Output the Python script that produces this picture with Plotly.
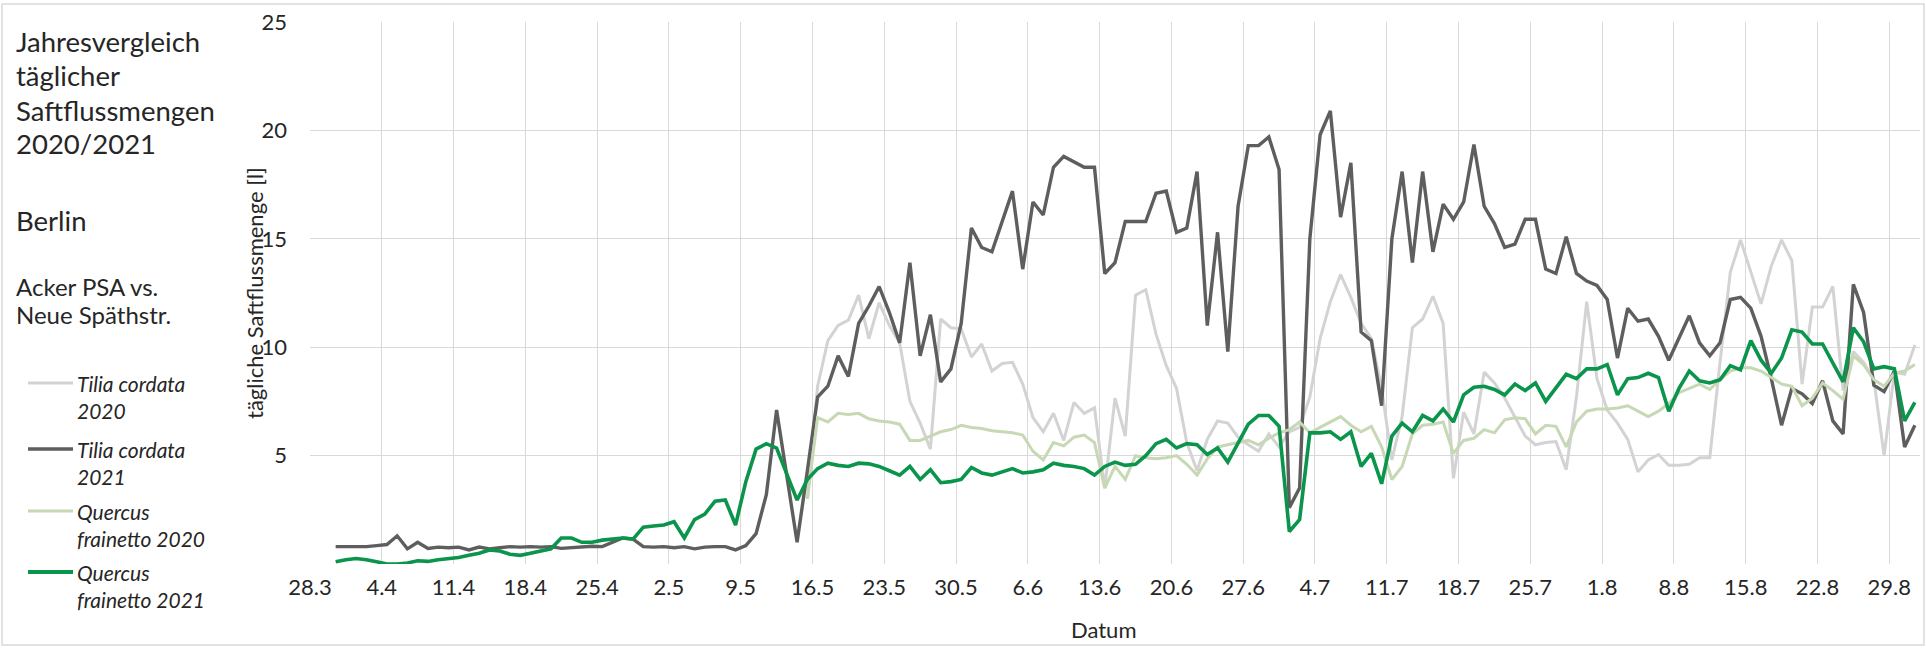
import pandas as pd
import plotly.graph_objects as go

# Daily values, 30.3. - 31.8. (one value per day)
dates = pd.date_range("2021-03-30 12:00", "2021-08-31 12:00", freq="D")

tick_dates = pd.date_range("2021-03-28", "2021-08-29", freq="7D")
tick_labels = ["28.3", "4.4", "11.4", "18.4", "25.4", "2.5", "9.5", "16.5", "23.5",
               "30.5", "6.6", "13.6", "20.6", "27.6", "4.7", "11.7", "18.7", "25.7",
               "1.8", "8.8", "15.8", "22.8", "29.8"]

tilia_2021 = [
    0.8, 0.8, 0.8, 0.8, 0.85,
    0.9, 1.3, 0.7, 1.0, 0.72, 0.78, 0.75,
    0.78, 0.65, 0.78, 0.7, 0.75, 0.8, 0.78,
    0.8, 0.78, 0.8, 0.72, 0.75, 0.8, 0.82,
    0.8, 1.0, 1.2, 1.15, 0.8, 0.78, 0.8,
    0.75, 0.8, 0.7, 0.78, 0.8, 0.8, 0.65,
    0.85, 1.4, 3.2, 7.1, 4.1, 1.0, 4.3,
    7.7, 8.2, 9.6, 8.65, 11.1, 11.9, 12.8,
    11.6, 10.2, 13.9, 9.6, 11.5, 8.4, 9.0,
    11.1, 15.5, 14.6, 14.4, 15.8, 17.2, 13.6,
    16.7, 16.1, 18.3, 18.8, 18.55, 18.3, 18.3,
    13.4, 13.9, 15.8, 15.8, 15.8, 17.1, 17.2,
    15.3, 15.5, 18.1, 11.0, 15.3, 9.8, 16.5,
    19.3, 19.3, 19.7, 18.2, 2.6, 3.5, 15.0,
    19.8, 20.9, 16.0, 18.5, 10.7, 10.3, 7.3,
    15.0, 18.1, 13.9, 18.1, 14.4, 16.6, 15.9,
    16.7, 19.35, 16.5, 15.7, 14.6, 14.75, 15.9,
    15.9, 13.6, 13.4, 15.1, 13.4, 13.05, 12.85,
    12.2, 9.5, 11.8, 11.2, 11.3, 10.5, 9.4,
    10.4, 11.45, 10.2, 9.6, 10.2, 12.2, 12.3,
    11.8, 10.5, 8.55, 6.4, 8.1, 7.85, 7.4,
    8.45, 6.6, 6.0, 12.9, 11.6, 8.25, 7.95,
    8.9, 5.4, 6.4,
]

quercus_2021 = [
    0.1, 0.2, 0.25, 0.2, 0.1,
    0.0, 0.0, 0.05, 0.15, 0.12, 0.2, 0.25,
    0.3, 0.4, 0.5, 0.65, 0.6, 0.45, 0.4,
    0.5, 0.6, 0.7, 1.2, 1.2, 1.0, 1.0,
    1.1, 1.15, 1.2, 1.15, 1.7, 1.75, 1.8,
    1.95, 1.2, 2.05, 2.3, 2.9, 2.95, 1.8,
    3.8, 5.3, 5.55, 5.35, 4.2, 2.95, 3.9,
    4.4, 4.65, 4.55, 4.5, 4.65, 4.62, 4.5,
    4.3, 4.1, 4.5, 3.9, 4.35, 3.75, 3.8,
    3.9, 4.45, 4.2, 4.1, 4.25, 4.4, 4.2,
    4.25, 4.35, 4.65, 4.55, 4.5, 4.4, 4.1,
    4.5, 4.7, 4.55, 4.6, 5.0, 5.55, 5.75,
    5.35, 5.55, 5.5, 5.05, 5.35, 4.7, 5.6,
    6.45, 6.85, 6.85, 6.35, 1.5, 2.05, 6.05,
    6.05, 6.1, 5.75, 6.1, 4.5, 5.1, 3.7,
    5.9, 6.5, 6.1, 6.85, 6.6, 7.15, 6.55,
    7.8, 8.15, 8.2, 8.05, 7.8, 8.3, 8.0,
    8.35, 7.5, 8.1, 8.75, 8.55, 9.0, 9.0,
    9.2, 7.8, 8.55, 8.6, 8.8, 8.6, 7.05,
    8.1, 8.9, 8.45, 8.35, 8.5, 9.15, 8.95,
    10.3, 9.4, 8.8, 9.5, 10.8, 10.7, 10.15,
    10.15, 9.3, 8.4, 10.9, 10.25, 9.0, 9.1,
    9.0, 6.6, 7.45,
]

# 2020 measurements begin on 15.5.
tilia_2020 = [
    3.0,
    8.2, 10.3, 11.0, 11.25, 12.4, 10.4, 12.05,
    11.0, 10.2, 7.5, 6.5, 5.3, 11.3, 10.9,
    10.85, 9.55, 10.15, 8.9, 9.25, 9.3, 8.3,
    6.75, 6.1, 6.95, 5.7, 7.45, 6.95, 7.2,
    3.5, 7.65, 5.9, 12.4, 12.65, 10.6, 9.15,
    8.1, 5.6, 4.3, 5.75, 6.6, 6.5, 5.85,
    5.5, 5.2, 6.0, 5.4, 6.1, 6.3, 7.7,
    10.4, 12.1, 13.35, 12.3, 11.1, 10.4, 8.1,
    4.8, 6.8, 10.9, 11.3, 12.35, 11.1, 3.95,
    7.0, 6.0, 8.85, 8.35, 7.65, 6.75, 5.9,
    5.5, 5.6, 5.65, 4.35, 7.7, 12.1, 8.55,
    7.1, 6.5, 5.75, 4.25, 4.8, 5.05, 4.55,
    4.55, 4.6, 4.9, 4.9, 9.3, 13.45, 14.95,
    13.45, 12.0, 13.75, 14.95, 14.0, 8.3, 11.85,
    11.85, 12.8, 8.0, 9.8, 9.3, 8.5, 5.0,
    8.85, 8.75, 10.1,
]

quercus_2020 = [
    3.0,
    6.75, 6.55, 6.95, 6.9, 6.95, 6.7, 6.6,
    6.55, 6.45, 5.7, 5.7, 5.9, 6.1, 6.2,
    6.4, 6.3, 6.25, 6.15, 6.1, 6.05, 5.95,
    5.2, 4.8, 5.6, 5.45, 5.85, 5.95, 5.6,
    3.5, 4.5, 3.9, 5.0, 4.9, 4.85, 4.9,
    5.0, 4.6, 4.1, 4.85, 5.4, 5.5, 5.6,
    5.7, 5.5, 5.8, 6.05, 6.2, 6.55, 6.05,
    6.3, 6.55, 6.8, 6.4, 6.1, 6.35, 5.4,
    3.9, 4.5, 6.0, 6.4, 6.45, 6.55, 5.1,
    5.7, 5.8, 6.2, 6.05, 6.65, 6.75, 6.7,
    6.0, 6.4, 6.35, 5.4, 6.55, 7.05, 7.15,
    7.15, 7.2, 7.3, 7.05, 6.8, 7.05, 7.4,
    7.9, 8.1, 8.3, 8.05, 8.5, 8.9, 9.05,
    9.05, 8.9, 8.6, 8.3, 8.2, 7.3, 7.65,
    8.35, 8.0, 7.6, 9.6, 9.2, 8.5, 8.2,
    8.8, 8.9, 9.2,
]


def pad_front(values):
    return [None] * (len(dates) - len(values)) + values


# name lines, values, colour, line width
series = [
    (["Tilia cordata", "2020"], pad_front(tilia_2020), "#d3d3d3", 3.0),
    (["Tilia cordata", "2021"], tilia_2021, "#5e5e5e", 3.4),
    (["Quercus", "frainetto 2020"], pad_front(quercus_2020), "#c6d8b4", 3.0),
    (["Quercus", "frainetto 2021"], quercus_2021, "#0b944b", 3.6),
]

FONT = "Lato"
TEXT = "#262626"
GRID = "#d9d9d9"

fig = go.Figure()
for name_lines, vals, color, width in series:
    fig.add_trace(go.Scatter(
        x=dates, y=vals, name=" ".join(name_lines), mode="lines",
        line=dict(color=color, width=width), connectgaps=False,
        showlegend=False,
    ))

# plot area: x 310..1920, y 22..564 (pixels)
L, R, T, B = 310, 6, 22, 84
W, H = 1926, 648
pw, ph = W - L - R, H - T - B


def px(x):
    return (x - L) / pw


def py(y):
    return (H - B - y) / ph


def label(text, x, y, size, **kw):
    d = dict(text=text, x=px(x), y=py(y), xref="paper", yref="paper",
             xanchor="left", yanchor="middle", align="left", showarrow=False,
             font=dict(family=FONT, size=size, color=TEXT))
    d.update(kw)
    return d


annotations = []
for text, y in zip(["Jahresvergleich", "täglicher", "Saftflussmengen", "2020/2021"],
                   [41.5, 75.5, 110, 144]):
    annotations.append(label(text, 14, y, 27.5))
annotations.append(label("Berlin", 14, 220, 27.5))
annotations.append(label("Acker PSA vs.", 14, 286, 24))
annotations.append(label("Neue Späthstr.", 14, 314, 24))
annotations.append(dict(
    text="tägliche Saftflussmenge [l]", x=px(254), y=0.5,
    xref="paper", yref="paper", xanchor="center", yanchor="middle",
    textangle=-90, showarrow=False, font=dict(family=FONT, size=22, color=TEXT)))
annotations.append(dict(
    text="Datum", x=px(1103), y=py(629), xref="paper", yref="paper",
    xanchor="center", yanchor="middle", showarrow=False,
    font=dict(family=FONT, size=22, color=TEXT)))

# legend block at the left: line sample + italic two-line label
shapes = [dict(
    type="rect", xref="paper", yref="paper",
    x0=px(2), x1=px(1924), y0=py(645), y1=py(4),
    line=dict(color=GRID, width=1.5), fillcolor="rgba(0,0,0,0)", layer="below",
)]
legend_rows = [383, 449, 511, 572]
for (name_lines, _, color, width), y in zip(series, legend_rows):
    shapes.append(dict(type="line", xref="paper", yref="paper",
                       x0=px(28), x1=px(73), y0=py(y), y1=py(y),
                       line=dict(color=color, width=width + 0.2)))
    annotations.append(label(f"<i>{name_lines[0]}</i>", 75, y, 21))
    annotations.append(label(f"<i>{name_lines[1]}</i>", 75, y + 27, 21))

fig.update_layout(
    width=W, height=H,
    margin=dict(l=L, r=R, t=T, b=B),
    paper_bgcolor="white", plot_bgcolor="white",
    font=dict(family=FONT, color=TEXT, size=22),
    showlegend=False,
    xaxis=dict(
        type="date", range=["2021-03-28", "2021-09-01"],
        tickvals=list(tick_dates), ticktext=tick_labels,
        showgrid=True, gridcolor=GRID, gridwidth=1.4,
        zeroline=False, showline=False, ticks="",
        tickfont=dict(family=FONT, size=22, color=TEXT),
        ticklabelstandoff=8,
    ),
    yaxis=dict(
        range=[0, 25], tickvals=[0, 5, 10, 15, 20, 25],
        ticktext=["", "5", "10", "15", "20", "25"],
        showgrid=True, gridcolor=GRID, gridwidth=1.4,
        zeroline=False, showline=False, ticks="",
        tickfont=dict(family=FONT, size=22, color=TEXT),
        ticklabelstandoff=22,
    ),
    shapes=shapes,
    annotations=annotations,
)

fig.write_html("out.html")
